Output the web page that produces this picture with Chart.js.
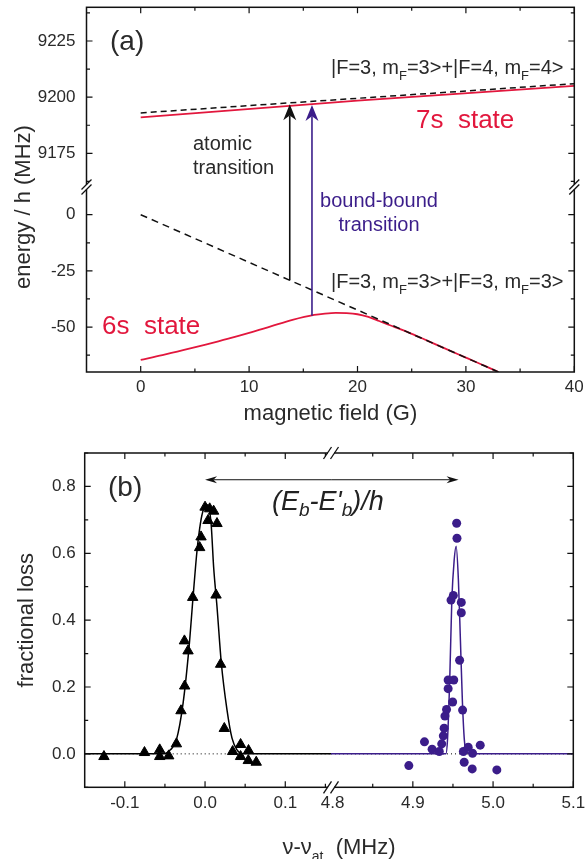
<!DOCTYPE html>
<html><head><meta charset="utf-8">
<script src="https://cdn.jsdelivr.net/npm/chart.js@4.4.0/dist/chart.umd.min.js"></script>
<style>
html,body{margin:0;padding:0;background:#fff;overflow:hidden;}
#wrap{position:relative;width:586px;height:859px;}
#ca{position:absolute;left:0;top:0;}
#cb{position:absolute;left:0;top:430px;}
</style></head><body>
<div id="wrap">
<canvas id="ca" width="586" height="430"></canvas>
<canvas id="cb" width="586" height="429"></canvas>
</div>
<script>
// ---------------- Panel (a): energy levels vs magnetic field ----------------
const upperField = [0, 40];
const upperPairDashed = [9193, 9206];          // |F=3,mF=3>+|F=4,mF=4>
const upper7sField = [0, 20, 40];
const upper7s = [9191, 9198.5, 9205];          // 7s state
const lowerPairField = [0, 33];
const lowerPairDashed = [0, -70];              // |F=3,mF=3>+|F=3,mF=3>
const field6s = [0, 2, 4, 6, 8, 10, 12, 14, 16, 17, 18, 19, 20, 21, 22, 23, 24, 25, 26, 28, 30, 32, 33];
const energy6s = [-64.6, -62.5, -60.2, -57.8, -55.3, -52.6, -49.7, -46.8, -44.6, -44, -43.7, -43.8, -44.3, -45.5, -47.3, -49.2, -51, -53, -55.1, -59.4, -63.6, -67.8, -70];
const transitionField = [13.75, 15.8];         // atomic, bound-bound
const transitionFrom = [-29.2, -45];
const transitionTo = [9196.8, 9196.5];
const aXTicks = [0, 10, 20, 30, 40];
const aXMinor = [5, 15, 25, 35];
const aYTopTicks = [9175, 9200, 9225];
const aYTopMinor = [9162.5, 9187.5, 9212.5, 9237.5];
const aYBotTicks = [-50, -25, 0];
const aYBotMinor = [-62.5, -37.5, -12.5];

// ---------------- Panel (b): fractional loss spectra ----------------
const triX = [-0.126, -0.0755, -0.0565, -0.0565, -0.0453, -0.0357, -0.030, -0.0254, -0.0257, -0.0212, -0.0154, -0.0067, -0.005, 0.0, 0.0058, 0.0107, 0.0037, 0.0149, 0.0137, 0.0194, 0.024, 0.0344, 0.0443, 0.0443, 0.0542, 0.0539, 0.0638];
const triY = [-0.008, 0.004, 0.012, -0.008, -0.006, 0.030, 0.129, 0.203, 0.338, 0.308, 0.468, 0.617, 0.649, 0.738, 0.733, 0.726, 0.698, 0.689, 0.475, 0.268, 0.076, 0.007, 0.028, -0.008, 0.01, -0.02, -0.025];
const dotX = [4.895, 4.9145, 4.924, 4.933, 4.936, 4.938, 4.939, 4.940, 4.942, 4.944, 4.944, 4.9496, 4.951, 4.9476, 4.9505, 4.9546, 4.955, 4.9604, 4.9604, 4.9583, 4.962, 4.963, 4.969, 4.9744, 4.964, 4.974, 4.984, 5.0047];
const dotY = [-0.035, 0.036, 0.014, 0.007, 0.030, 0.054, 0.077, 0.113, 0.133, 0.195, 0.221, 0.155, 0.221, 0.46, 0.474, 0.69, 0.645, 0.453, 0.422, 0.28, 0.131, 0.007, 0.020, 0.002, -0.025, -0.045, 0.026, -0.048];
const atomFitX = [-0.15, -0.0515, -0.0432, -0.0357, -0.0274, -0.0199, -0.0149, -0.00995, -0.0058, -0.0017, 0.0025, 0.0075, 0.0107, 0.0149, 0.0203, 0.0274, 0.0336, 0.0398, 0.048, 0.157];
const atomFitY = [0, 0, 0.012, 0.042, 0.151, 0.32, 0.47, 0.609, 0.689, 0.733, 0.745, 0.69, 0.559, 0.44, 0.271, 0.131, 0.047, 0.012, 0, 0];
const boundFitX = [4.798, 4.9412, 4.9432, 4.9462, 4.9486, 4.9515, 4.954, 4.9568, 4.9593, 4.9617, 4.9642, 4.9671, 4.975, 5.1];
const boundFitY = [0, 0, 0.042, 0.241, 0.46, 0.579, 0.621, 0.519, 0.34, 0.161, 0.042, 0.005, 0, 0];
const splitFrom = [0.0, 0.82];                 // (Eb-E'b)/h arrow: x on left segment, y
const splitTo = [4.957, 0.82];                 // x on right segment, y
const bYTicks = [0, 0.2, 0.4, 0.6, 0.8];
const bYMinor = [-0.1, 0.1, 0.3, 0.5, 0.7, 0.9];
const bXLTicks = [-0.1, 0.0, 0.1];
const bXLMinor = [-0.05, 0.05, 0.15];
const bXRTicks = [4.8, 4.9, 5.0, 5.1];
const bXRMinor = [4.85, 4.95, 5.05];

// ---------------- styling / helpers ----------------
const FONT = '"Liberation Sans", Arial, Helvetica, sans-serif';
const RED = '#e2173d';
const PURPLE = '#3b1d8a';
const TXT = '#2a2a2a';
const pts = (xs, ys) => xs.map((x, i) => ({x: x, y: ys[i]}));
const fmt0 = v => String(v);
const fmt1 = v => v.toFixed(1);

function axis(min, max, ticks, fmt, pad, size, extra) {
  const o = {
    type: 'linear', min: min, max: max,
    grid: {display: false, drawTicks: false},
    border: {display: false},
    ticks: {font: {family: FONT, size: 17}, color: TXT, padding: pad, callback: fmt},
    afterBuildTicks: s => { s.ticks = ticks.map(v => ({value: v})); },
    afterFit: s => {
      if (s.isHorizontal()) s.height = size; else s.width = size;
      s.paddingTop = 0; s.paddingBottom = 0; s.paddingLeft = 0; s.paddingRight = 0;
    }
  };
  return Object.assign(o, extra);
}

function frameAndTicks(chart, specs) {
  const ctx = chart.ctx, a = chart.chartArea;
  ctx.save();
  ctx.strokeStyle = '#111';
  ctx.lineWidth = 1.5;
  ctx.strokeRect(a.left, a.top, a.right - a.left, a.bottom - a.top);
  ctx.lineWidth = 1.2;
  specs.forEach(sp => {
    const s = chart.scales[sp.id];
    const draw = (v, len) => {
      const p = s.getPixelForValue(v);
      ctx.beginPath();
      if (s.isHorizontal()) {
        ctx.moveTo(p, a.bottom); ctx.lineTo(p, a.bottom - len);
        ctx.moveTo(p, a.top); ctx.lineTo(p, a.top + len);
      } else {
        ctx.moveTo(a.left, p); ctx.lineTo(a.left + len, p);
        ctx.moveTo(a.right, p); ctx.lineTo(a.right - len, p);
      }
      ctx.stroke();
    };
    sp.major.forEach(v => draw(v, 6));
    sp.minor.forEach(v => draw(v, 3.5));
  });
  ctx.restore();
}

function breakOnVertical(ctx, x, y) {
  ctx.save();
  ctx.fillStyle = '#fff';
  ctx.fillRect(x - 2, y - 2.5, 4, 5);
  ctx.strokeStyle = '#111'; ctx.lineWidth = 1.3;
  [-2.5, 2.5].forEach(d => {
    ctx.beginPath(); ctx.moveTo(x - 5, y + d + 5); ctx.lineTo(x + 5, y + d - 5); ctx.stroke();
  });
  ctx.restore();
}
function breakOnHorizontal(ctx, x, y) {
  ctx.save();
  ctx.fillStyle = '#fff';
  ctx.fillRect(x - 3, y - 2, 6, 4);
  ctx.strokeStyle = '#111'; ctx.lineWidth = 1.3;
  [-3.5, 3.5].forEach(d => {
    ctx.beginPath(); ctx.moveTo(x + d - 4, y + 6); ctx.lineTo(x + d + 4, y - 6); ctx.stroke();
  });
  ctx.restore();
}

function arrow(ctx, x1, y1, x2, y2, color, lw, headLen, headW) {
  const ang = Math.atan2(y2 - y1, x2 - x1);
  const notch = headLen * 0.7;
  ctx.save();
  ctx.strokeStyle = color; ctx.fillStyle = color; ctx.lineWidth = lw;
  ctx.beginPath(); ctx.moveTo(x1, y1);
  ctx.lineTo(x2 - Math.cos(ang) * notch, y2 - Math.sin(ang) * notch); ctx.stroke();
  ctx.translate(x2, y2); ctx.rotate(ang);
  ctx.beginPath(); ctx.moveTo(0, 0); ctx.lineTo(-headLen, -headW); ctx.lineTo(-notch, 0); ctx.lineTo(-headLen, headW); ctx.closePath(); ctx.fill();
  ctx.restore();
}

// parts: [text, size, dy, italic]
function rich(ctx, x, y, parts, align, color) {
  ctx.save();
  ctx.fillStyle = color; ctx.textBaseline = 'alphabetic'; ctx.textAlign = 'left';
  const f = p => (p[3] ? 'italic ' : '') + p[1] + 'px ' + FONT;
  let w = 0;
  const ws = parts.map(p => { ctx.font = f(p); const m = ctx.measureText(p[0]).width; w += m; return m; });
  let cx = align === 'center' ? x - w / 2 : (align === 'right' ? x - w : x);
  parts.forEach((p, i) => { ctx.font = f(p); ctx.fillText(p[0], cx, y + (p[2] || 0)); cx += ws[i]; });
  ctx.restore();
}
function vtext(ctx, x, y, text, size, color) {
  ctx.save();
  ctx.translate(x, y); ctx.rotate(-Math.PI / 2);
  ctx.font = size + 'px ' + FONT; ctx.fillStyle = color;
  ctx.textAlign = 'center'; ctx.textBaseline = 'middle';
  ctx.fillText(text, 0, 0);
  ctx.restore();
}

// ---------------- Chart (a) ----------------
const decoA = {
  id: 'decoA',
  afterDatasetsDraw(chart) {
    const ctx = chart.ctx, a = chart.chartArea;
    const x = chart.scales.x, yT = chart.scales.yTop, yB = chart.scales.yBot;
    frameAndTicks(chart, [
      {id: 'x', major: aXTicks, minor: aXMinor},
      {id: 'yTop', major: aYTopTicks, minor: aYTopMinor},
      {id: 'yBot', major: aYBotTicks, minor: aYBotMinor}
    ]);
    breakOnVertical(ctx, a.left, yT.bottom);
    breakOnVertical(ctx, a.right, yT.bottom);
    const colors = ['#111', PURPLE];
    transitionField.forEach((f, i) => {
      const px = x.getPixelForValue(f);
      arrow(ctx, px, yB.getPixelForValue(transitionFrom[i]), px, yT.getPixelForValue(transitionTo[i]), colors[i], 1.6, 16, 6.5);
    });
    rich(ctx, 110, 50, [['(a)', 28]], 'left', TXT);
    rich(ctx, 331, 74, [['|F=3, m', 20], ['F', 13, 6], ['=3>+|F=4, m', 20], ['F', 13, 6], ['=4>', 20]], 'left', TXT);
    rich(ctx, 416, 128, [['7s  state', 26]], 'left', RED);
    rich(ctx, 193, 150, [['atomic', 20]], 'left', TXT);
    rich(ctx, 193, 174, [['transition', 20]], 'left', TXT);
    rich(ctx, 379, 207, [['bound-bound', 20]], 'center', PURPLE);
    rich(ctx, 379, 231, [['transition', 20]], 'center', PURPLE);
    rich(ctx, 331, 288, [['|F=3, m', 20], ['F', 13, 6], ['=3>+|F=3, m', 20], ['F', 13, 6], ['=3>', 20]], 'left', TXT);
    rich(ctx, 102, 334, [['6s  state', 26]], 'left', RED);
    rich(ctx, (a.left + a.right) / 2, 420, [['magnetic field (G)', 22]], 'center', TXT);
    vtext(ctx, 24, 207, 'energy / h (MHz)', 22, TXT);
  }
};

new Chart(document.getElementById('ca'), {
  type: 'scatter',
  data: {datasets: [
    {data: pts(upperField, upperPairDashed), yAxisID: 'yTop', showLine: true, borderColor: '#111', borderWidth: 1.5, borderDash: [6, 4], pointRadius: 0},
    {data: pts(lowerPairField, lowerPairDashed), yAxisID: 'yBot', showLine: true, borderColor: '#111', borderWidth: 1.5, borderDash: [7, 5], pointRadius: 0},
    {data: pts(upper7sField, upper7s), yAxisID: 'yTop', showLine: true, borderColor: RED, borderWidth: 1.8, pointRadius: 0},
    {data: pts(field6s, energy6s), yAxisID: 'yBot', showLine: true, borderColor: RED, borderWidth: 1.8, pointRadius: 0, cubicInterpolationMode: 'monotone'}
  ]},
  options: {
    responsive: false, animation: false, devicePixelRatio: 1,
    layout: {padding: {left: 0, right: 11.7, top: 7.3, bottom: 0}},
    plugins: {legend: {display: false}, tooltip: {enabled: false}},
    scales: {
      x: axis(-5, 40, aXTicks, fmt0, 5, 58, {position: 'bottom'}),
      yBot: axis(-70, 12.3, aYBotTicks, fmt0, 11, 86.5, {position: 'left', stack: 'a', stackWeight: 82.3}),
      yTop: axis(9160, 9240, aYTopTicks, fmt0, 11, 86.5, {position: 'left', stack: 'a', stackWeight: 80})
    }
  },
  plugins: [decoA]
});

// ---------------- Chart (b) ----------------
const decoB = {
  id: 'decoB',
  afterDatasetsDraw(chart) {
    const ctx = chart.ctx, a = chart.chartArea;
    const xL = chart.scales.xL, xR = chart.scales.xR, y = chart.scales.y;
    frameAndTicks(chart, [
      {id: 'xL', major: bXLTicks, minor: bXLMinor},
      {id: 'xR', major: bXRTicks.slice(1), minor: bXRMinor},
      {id: 'y', major: bYTicks, minor: bYMinor}
    ]);
    breakOnHorizontal(ctx, xL.right, a.top);
    breakOnHorizontal(ctx, xL.right, a.bottom);
    const ax1 = xL.getPixelForValue(splitFrom[0]), ax2 = xR.getPixelForValue(splitTo[0]);
    const ay = y.getPixelForValue(splitFrom[1]);
    arrow(ctx, (ax1 + ax2) / 2, ay, ax1, ay, '#111', 1, 12, 3.5);
    arrow(ctx, (ax1 + ax2) / 2, ay, ax2, ay, '#111', 1, 12, 3.5);
    rich(ctx, 108, 66, [['(b)', 28]], 'left', TXT);
    rich(ctx, 272, 80, [['(E', 27, 0, true], ['b', 19, 6, true], ['-E\'', 27, 0, true], ['b', 19, 6, true], [')/h', 27, 0, true]], 'left', '#222');
    vtext(ctx, 27, (a.top + a.bottom) / 2, 'fractional loss', 22, TXT);
    rich(ctx, 339, 424, [['\u03bd-\u03bd', 22], ['at', 14, 7], ['  (MHz)', 22]], 'center', TXT);
  }
};

new Chart(document.getElementById('cb'), {
  type: 'scatter',
  data: {datasets: [
    {data: pts(triX, triY), xAxisID: 'xL', pointStyle: 'triangle', pointRadius: 6, backgroundColor: '#000', borderColor: '#000', borderWidth: 1},
    {data: pts(dotX, dotY), xAxisID: 'xR', pointStyle: 'circle', pointRadius: 4.5, backgroundColor: PURPLE, borderColor: PURPLE, borderWidth: 0},
    {data: pts(atomFitX, atomFitY), xAxisID: 'xL', showLine: true, borderColor: '#000', borderWidth: 1.5, pointRadius: 0, cubicInterpolationMode: 'monotone'},
    {data: pts(boundFitX, boundFitY), xAxisID: 'xR', showLine: true, borderColor: PURPLE, borderWidth: 1.5, pointRadius: 0, cubicInterpolationMode: 'monotone'},
    {data: pts([-0.15, 0.157], [0, 0]), xAxisID: 'xL', showLine: true, borderColor: '#000', borderWidth: 1, borderDash: [1, 3], pointRadius: 0},
    {data: pts([4.798, 5.1], [0, 0]), xAxisID: 'xR', showLine: true, borderColor: '#000', borderWidth: 1, borderDash: [1, 3], pointRadius: 0}
  ]},
  options: {
    responsive: false, animation: false, devicePixelRatio: 1,
    layout: {padding: {left: 0, right: 12.7, top: 23, bottom: 0}},
    plugins: {legend: {display: false}, tooltip: {enabled: false}},
    scales: {
      xL: axis(-0.15, 0.157, bXLTicks, fmt1, 6, 71.7, {position: 'bottom', stack: 'b', stackWeight: 0.307}),
      xR: axis(4.798, 5.1, bXRTicks, fmt1, 6, 71.7, {position: 'bottom', stack: 'b', stackWeight: 0.302}),
      y: axis(-0.1, 0.9, bYTicks, fmt1, 9, 84.7, {position: 'left'})
    }
  },
  plugins: [decoB]
});
</script>
</body></html>
